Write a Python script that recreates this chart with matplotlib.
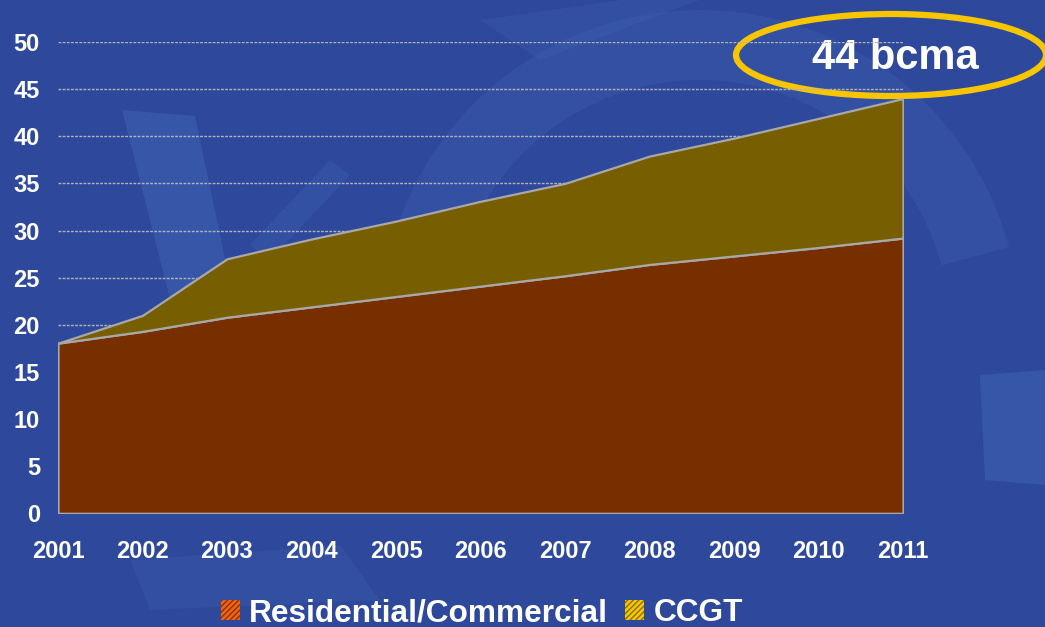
import matplotlib
matplotlib.use("Agg")
import matplotlib.pyplot as plt
from matplotlib.patches import Patch, Polygon, Wedge, Ellipse

plt.rcParams["font.family"] = ["Liberation Sans", "DejaVu Sans"]
plt.rcParams["font.weight"] = "bold"

# Gas demand, bcma
years = [2001, 2002, 2003, 2004, 2005, 2006, 2007, 2008, 2009, 2010, 2011]
residential_commercial = [18.05, 19.3, 20.8, 21.9, 23.0, 24.1, 25.2, 26.4, 27.3, 28.2, 29.2]
ccgt = [0.0, 1.7, 6.2, 7.2, 8.0, 9.0, 9.8, 11.5, 12.5, 13.7, 14.8]
y_ticks = [0, 5, 10, 15, 20, 25, 30, 35, 40, 45, 50]
series_names = ["Residential/Commercial", "CCGT"]
callout = "44 bcma"

W, H = 1045, 627
fig = plt.figure(figsize=(W / 100, H / 100), dpi=100)
fig.patch.set_facecolor("#2e489b")

# Decorative backdrop shapes
bg = fig.add_axes([0, 0, 1, 1], zorder=-5)
bg.set_xlim(0, W)
bg.set_ylim(H, 0)
bg.axis("off")
light = "#4a78c4"
bg.add_patch(Wedge((700, 330), 320, 195, 345, width=70, color=light, alpha=0.18, lw=0))
bg.add_patch(Polygon([(122, 110), (195, 116), (240, 330), (178, 330)], color=light, alpha=0.3, lw=0))
bg.add_patch(Polygon([(330, 160), (350, 175), (270, 260), (250, 245)], color=light, alpha=0.2, lw=0))
bg.add_patch(Polygon([(980, 375), (1045, 370), (1045, 485), (985, 480)], color=light, alpha=0.3, lw=0))
bg.add_patch(Polygon([(130, 560), (340, 545), (380, 600), (150, 610)], color=light, alpha=0.15, lw=0))
bg.add_patch(Polygon([(480, 20), (620, 0), (700, 0), (540, 60)], color=light, alpha=0.15, lw=0))

# Main chart
ax = fig.add_axes([58 / W, 1 - 513.3 / H, (903 - 58) / W, (513.3 - 42) / H])
ax.set_facecolor("none")
ax.stackplot(years, residential_commercial, ccgt,
             colors=["#772f00", "#775e00"],
             edgecolor="#a8a8a8", linewidth=1.6, zorder=3)
ax.set_xlim(years[0], years[-1])
ax.set_ylim(0, 50)
ax.set_yticks(y_ticks)
ax.set_xticks(years)
ax.yaxis.grid(True, color="#b4b4b4", linestyle=(0, (2, 1)), linewidth=1.0, zorder=1)
ax.set_axisbelow(True)
for s in ax.spines.values():
    s.set_visible(False)
ax.tick_params(axis="both", length=0, colors="white", labelsize=17)
ax.tick_params(axis="y", pad=13)
ax.tick_params(axis="x", pad=19)
for lbl in ax.get_xticklabels() + ax.get_yticklabels():
    lbl.set_fontweight("bold")

# Callout
bg.add_patch(Ellipse((891, 55), 310, 82, fill=False, edgecolor="#f7c600", lw=4.5))
bg.text(895, 58, callout, color="white", fontsize=30, fontweight="bold",
        ha="center", va="center")

# Legend
handles = [
    Patch(facecolor="#f06412", edgecolor="#8a3200", hatch="//////", lw=0),
    Patch(facecolor="#f5c800", edgecolor="#8a6d00", hatch="//////", lw=0),
]
leg = fig.legend(handles, series_names, loc="center", bbox_to_anchor=(482 / W, 1 - 613 / H),
                 ncol=2, frameon=False, handlelength=0.6, handleheight=0.6,
                 handletextpad=0.3, columnspacing=0.55,
                 prop={"size": 22.8, "weight": "bold"})
for t in leg.get_texts():
    t.set_color("white")

fig.savefig("out.png", dpi=100, facecolor=fig.get_facecolor())
